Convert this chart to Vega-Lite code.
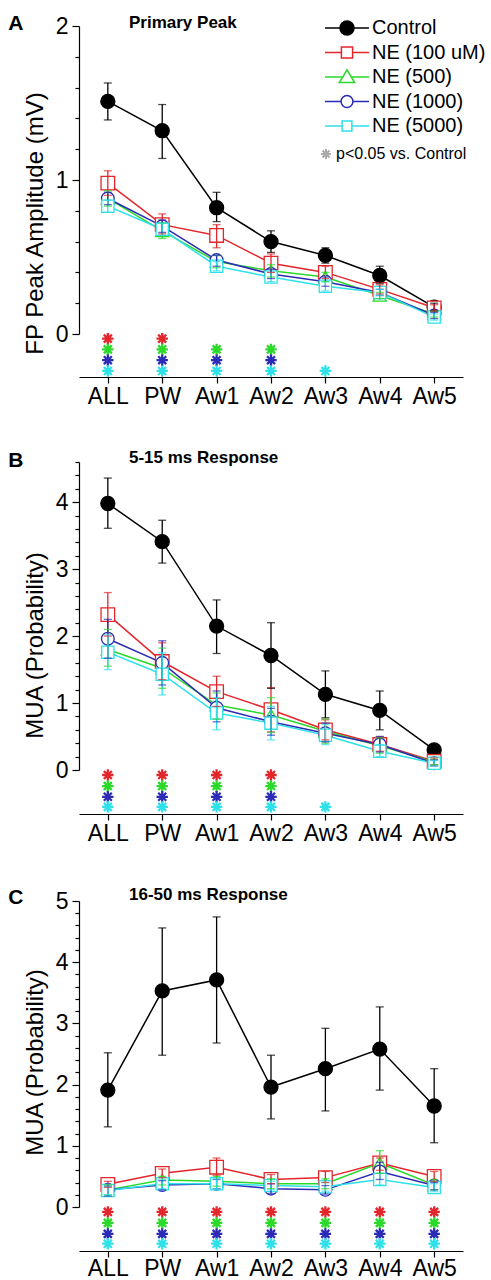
{
  "$schema": "https://vega.github.io/schema/vega-lite/v6.json",
  "padding": {"left": 8, "top": 13, "right": 2, "bottom": 0},
  "background": "white",
  "spacing": 41,
  "config": {
    "view": {"stroke": null},
    "font": "Liberation Sans",
    "axis": {"domainColor": "black", "tickColor": "black", "labelColor": "black", "titleColor": "black", "grid": false, "domainWidth": 1.2, "tickWidth": 1.2, "labelFont": "Liberation Sans", "titleFont": "Liberation Sans", "titleFontWeight": "normal"},
    "title": {"font": "Liberation Sans", "color": "black"},
    "legend": {"labelFont": "Liberation Sans", "labelColor": "black", "padding": 0}
  },
  "datasets": {
    "main": [
      {"panel":"A","region":"ALL","series":"Control","mean":1.51,"lo":1.39,"hi":1.63},
      {"panel":"A","region":"PW","series":"Control","mean":1.32,"lo":1.14,"hi":1.49},
      {"panel":"A","region":"Aw1","series":"Control","mean":0.82,"lo":0.73,"hi":0.92},
      {"panel":"A","region":"Aw2","series":"Control","mean":0.6,"lo":0.53,"hi":0.67},
      {"panel":"A","region":"Aw3","series":"Control","mean":0.51,"lo":0.46,"hi":0.56},
      {"panel":"A","region":"Aw4","series":"Control","mean":0.38,"lo":0.33,"hi":0.44},
      {"panel":"A","region":"Aw5","series":"Control","mean":0.175,"lo":0.15,"hi":0.2},
      {"panel":"A","region":"ALL","series":"NE (100 uM)","mean":0.98,"lo":0.9,"hi":1.06},
      {"panel":"A","region":"PW","series":"NE (100 uM)","mean":0.71,"lo":0.65,"hi":0.78},
      {"panel":"A","region":"Aw1","series":"NE (100 uM)","mean":0.64,"lo":0.56,"hi":0.71},
      {"panel":"A","region":"Aw2","series":"NE (100 uM)","mean":0.46,"lo":0.4,"hi":0.52},
      {"panel":"A","region":"Aw3","series":"NE (100 uM)","mean":0.4,"lo":0.36,"hi":0.44},
      {"panel":"A","region":"Aw4","series":"NE (100 uM)","mean":0.29,"lo":0.26,"hi":0.32},
      {"panel":"A","region":"Aw5","series":"NE (100 uM)","mean":0.17,"lo":0.15,"hi":0.19},
      {"panel":"A","region":"ALL","series":"NE (500)","mean":0.88,"lo":0.83,"hi":0.93},
      {"panel":"A","region":"PW","series":"NE (500)","mean":0.67,"lo":0.62,"hi":0.72},
      {"panel":"A","region":"Aw1","series":"NE (500)","mean":0.47,"lo":0.43,"hi":0.51},
      {"panel":"A","region":"Aw2","series":"NE (500)","mean":0.41,"lo":0.37,"hi":0.45},
      {"panel":"A","region":"Aw3","series":"NE (500)","mean":0.37,"lo":0.34,"hi":0.4},
      {"panel":"A","region":"Aw4","series":"NE (500)","mean":0.25,"lo":0.23,"hi":0.27},
      {"panel":"A","region":"Aw5","series":"NE (500)","mean":0.13,"lo":0.11,"hi":0.15},
      {"panel":"A","region":"ALL","series":"NE (1000)","mean":0.88,"lo":0.84,"hi":0.92},
      {"panel":"A","region":"PW","series":"NE (1000)","mean":0.7,"lo":0.66,"hi":0.74},
      {"panel":"A","region":"Aw1","series":"NE (1000)","mean":0.48,"lo":0.44,"hi":0.51},
      {"panel":"A","region":"Aw2","series":"NE (1000)","mean":0.39,"lo":0.36,"hi":0.42},
      {"panel":"A","region":"Aw3","series":"NE (1000)","mean":0.34,"lo":0.31,"hi":0.37},
      {"panel":"A","region":"Aw4","series":"NE (1000)","mean":0.27,"lo":0.25,"hi":0.29},
      {"panel":"A","region":"Aw5","series":"NE (1000)","mean":0.12,"lo":0.1,"hi":0.14},
      {"panel":"A","region":"ALL","series":"NE (5000)","mean":0.83,"lo":0.79,"hi":0.87},
      {"panel":"A","region":"PW","series":"NE (5000)","mean":0.68,"lo":0.64,"hi":0.72},
      {"panel":"A","region":"Aw1","series":"NE (5000)","mean":0.44,"lo":0.41,"hi":0.47},
      {"panel":"A","region":"Aw2","series":"NE (5000)","mean":0.37,"lo":0.34,"hi":0.4},
      {"panel":"A","region":"Aw3","series":"NE (5000)","mean":0.31,"lo":0.28,"hi":0.34},
      {"panel":"A","region":"Aw4","series":"NE (5000)","mean":0.27,"lo":0.25,"hi":0.29},
      {"panel":"A","region":"Aw5","series":"NE (5000)","mean":0.11,"lo":0.09,"hi":0.13},

      {"panel":"B","region":"ALL","series":"Control","mean":3.98,"lo":3.61,"hi":4.36},
      {"panel":"B","region":"PW","series":"Control","mean":3.41,"lo":3.09,"hi":3.73},
      {"panel":"B","region":"Aw1","series":"Control","mean":2.15,"lo":1.74,"hi":2.54},
      {"panel":"B","region":"Aw2","series":"Control","mean":1.71,"lo":1.22,"hi":2.2},
      {"panel":"B","region":"Aw3","series":"Control","mean":1.13,"lo":0.78,"hi":1.48},
      {"panel":"B","region":"Aw4","series":"Control","mean":0.89,"lo":0.6,"hi":1.18},
      {"panel":"B","region":"Aw5","series":"Control","mean":0.3,"lo":0.25,"hi":0.35},
      {"panel":"B","region":"ALL","series":"NE (100 uM)","mean":2.32,"lo":2.0,"hi":2.65},
      {"panel":"B","region":"PW","series":"NE (100 uM)","mean":1.62,"lo":1.35,"hi":1.9},
      {"panel":"B","region":"Aw1","series":"NE (100 uM)","mean":1.17,"lo":0.95,"hi":1.4},
      {"panel":"B","region":"Aw2","series":"NE (100 uM)","mean":0.9,"lo":0.57,"hi":1.23},
      {"panel":"B","region":"Aw3","series":"NE (100 uM)","mean":0.6,"lo":0.45,"hi":0.75},
      {"panel":"B","region":"Aw4","series":"NE (100 uM)","mean":0.38,"lo":0.28,"hi":0.5},
      {"panel":"B","region":"Aw5","series":"NE (100 uM)","mean":0.13,"lo":0.08,"hi":0.18},
      {"panel":"B","region":"ALL","series":"NE (500)","mean":1.8,"lo":1.55,"hi":2.1},
      {"panel":"B","region":"PW","series":"NE (500)","mean":1.52,"lo":1.22,"hi":1.82},
      {"panel":"B","region":"Aw1","series":"NE (500)","mean":0.97,"lo":0.76,"hi":1.15},
      {"panel":"B","region":"Aw2","series":"NE (500)","mean":0.82,"lo":0.56,"hi":1.08},
      {"panel":"B","region":"Aw3","series":"NE (500)","mean":0.58,"lo":0.4,"hi":0.76},
      {"panel":"B","region":"Aw4","series":"NE (500)","mean":0.36,"lo":0.25,"hi":0.48},
      {"panel":"B","region":"Aw5","series":"NE (500)","mean":0.12,"lo":0.08,"hi":0.16},
      {"panel":"B","region":"ALL","series":"NE (1000)","mean":1.96,"lo":1.67,"hi":2.25},
      {"panel":"B","region":"PW","series":"NE (1000)","mean":1.6,"lo":1.27,"hi":1.93},
      {"panel":"B","region":"Aw1","series":"NE (1000)","mean":0.93,"lo":0.72,"hi":1.18},
      {"panel":"B","region":"Aw2","series":"NE (1000)","mean":0.72,"lo":0.52,"hi":0.92},
      {"panel":"B","region":"Aw3","series":"NE (1000)","mean":0.55,"lo":0.42,"hi":0.7},
      {"panel":"B","region":"Aw4","series":"NE (1000)","mean":0.38,"lo":0.27,"hi":0.5},
      {"panel":"B","region":"Aw5","series":"NE (1000)","mean":0.1,"lo":0.06,"hi":0.15},
      {"panel":"B","region":"ALL","series":"NE (5000)","mean":1.76,"lo":1.5,"hi":2.02},
      {"panel":"B","region":"PW","series":"NE (5000)","mean":1.43,"lo":1.12,"hi":1.75},
      {"panel":"B","region":"Aw1","series":"NE (5000)","mean":0.85,"lo":0.6,"hi":1.08},
      {"panel":"B","region":"Aw2","series":"NE (5000)","mean":0.7,"lo":0.45,"hi":0.95},
      {"panel":"B","region":"Aw3","series":"NE (5000)","mean":0.52,"lo":0.38,"hi":0.68},
      {"panel":"B","region":"Aw4","series":"NE (5000)","mean":0.28,"lo":0.2,"hi":0.38},
      {"panel":"B","region":"Aw5","series":"NE (5000)","mean":0.1,"lo":0.06,"hi":0.14},

      {"panel":"C","region":"ALL","series":"Control","mean":1.91,"lo":1.31,"hi":2.52},
      {"panel":"C","region":"PW","series":"Control","mean":3.53,"lo":2.48,"hi":4.56},
      {"panel":"C","region":"Aw1","series":"Control","mean":3.71,"lo":2.68,"hi":4.74},
      {"panel":"C","region":"Aw2","series":"Control","mean":1.96,"lo":1.44,"hi":2.48},
      {"panel":"C","region":"Aw3","series":"Control","mean":2.26,"lo":1.57,"hi":2.92},
      {"panel":"C","region":"Aw4","series":"Control","mean":2.58,"lo":1.91,"hi":3.27},
      {"panel":"C","region":"Aw5","series":"Control","mean":1.65,"lo":1.05,"hi":2.26},
      {"panel":"C","region":"ALL","series":"NE (100 uM)","mean":0.37,"lo":0.32,"hi":0.42},
      {"panel":"C","region":"PW","series":"NE (100 uM)","mean":0.55,"lo":0.48,"hi":0.62},
      {"panel":"C","region":"Aw1","series":"NE (100 uM)","mean":0.65,"lo":0.52,"hi":0.8},
      {"panel":"C","region":"Aw2","series":"NE (100 uM)","mean":0.45,"lo":0.38,"hi":0.53},
      {"panel":"C","region":"Aw3","series":"NE (100 uM)","mean":0.48,"lo":0.4,"hi":0.58},
      {"panel":"C","region":"Aw4","series":"NE (100 uM)","mean":0.72,"lo":0.6,"hi":0.8},
      {"panel":"C","region":"Aw5","series":"NE (100 uM)","mean":0.5,"lo":0.42,"hi":0.58},
      {"panel":"C","region":"ALL","series":"NE (500)","mean":0.28,"lo":0.2,"hi":0.36},
      {"panel":"C","region":"PW","series":"NE (500)","mean":0.44,"lo":0.36,"hi":0.5},
      {"panel":"C","region":"Aw1","series":"NE (500)","mean":0.42,"lo":0.34,"hi":0.5},
      {"panel":"C","region":"Aw2","series":"NE (500)","mean":0.38,"lo":0.3,"hi":0.46},
      {"panel":"C","region":"Aw3","series":"NE (500)","mean":0.38,"lo":0.3,"hi":0.46},
      {"panel":"C","region":"Aw4","series":"NE (500)","mean":0.72,"lo":0.55,"hi":0.92},
      {"panel":"C","region":"Aw5","series":"NE (500)","mean":0.36,"lo":0.28,"hi":0.45},
      {"panel":"C","region":"ALL","series":"NE (1000)","mean":0.28,"lo":0.18,"hi":0.34},
      {"panel":"C","region":"PW","series":"NE (1000)","mean":0.36,"lo":0.28,"hi":0.43},
      {"panel":"C","region":"Aw1","series":"NE (1000)","mean":0.38,"lo":0.3,"hi":0.45},
      {"panel":"C","region":"Aw2","series":"NE (1000)","mean":0.3,"lo":0.22,"hi":0.38},
      {"panel":"C","region":"Aw3","series":"NE (1000)","mean":0.28,"lo":0.21,"hi":0.35},
      {"panel":"C","region":"Aw4","series":"NE (1000)","mean":0.58,"lo":0.45,"hi":0.73},
      {"panel":"C","region":"Aw5","series":"NE (1000)","mean":0.35,"lo":0.28,"hi":0.4},
      {"panel":"C","region":"ALL","series":"NE (5000)","mean":0.27,"lo":0.2,"hi":0.33},
      {"panel":"C","region":"PW","series":"NE (5000)","mean":0.38,"lo":0.3,"hi":0.45},
      {"panel":"C","region":"Aw1","series":"NE (5000)","mean":0.38,"lo":0.3,"hi":0.46},
      {"panel":"C","region":"Aw2","series":"NE (5000)","mean":0.35,"lo":0.28,"hi":0.42},
      {"panel":"C","region":"Aw3","series":"NE (5000)","mean":0.33,"lo":0.26,"hi":0.4},
      {"panel":"C","region":"Aw4","series":"NE (5000)","mean":0.45,"lo":0.36,"hi":0.55},
      {"panel":"C","region":"Aw5","series":"NE (5000)","mean":0.32,"lo":0.25,"hi":0.38}
    ],
    "sig": [
      {"panel":"A","region":"ALL","series":"NE (100 uM)","y":-0.03},
      {"panel":"A","region":"ALL","series":"NE (500)","y":-0.1},
      {"panel":"A","region":"ALL","series":"NE (1000)","y":-0.17},
      {"panel":"A","region":"ALL","series":"NE (5000)","y":-0.24},
      {"panel":"A","region":"PW","series":"NE (100 uM)","y":-0.03},
      {"panel":"A","region":"PW","series":"NE (500)","y":-0.1},
      {"panel":"A","region":"PW","series":"NE (1000)","y":-0.17},
      {"panel":"A","region":"PW","series":"NE (5000)","y":-0.24},
      {"panel":"A","region":"Aw1","series":"NE (500)","y":-0.1},
      {"panel":"A","region":"Aw1","series":"NE (1000)","y":-0.17},
      {"panel":"A","region":"Aw1","series":"NE (5000)","y":-0.24},
      {"panel":"A","region":"Aw2","series":"NE (500)","y":-0.1},
      {"panel":"A","region":"Aw2","series":"NE (1000)","y":-0.17},
      {"panel":"A","region":"Aw2","series":"NE (5000)","y":-0.24},
      {"panel":"A","region":"Aw3","series":"NE (5000)","y":-0.24},

      {"panel":"B","region":"ALL","series":"NE (100 uM)","y":-0.075},
      {"panel":"B","region":"ALL","series":"NE (500)","y":-0.24},
      {"panel":"B","region":"ALL","series":"NE (1000)","y":-0.4},
      {"panel":"B","region":"ALL","series":"NE (5000)","y":-0.55},
      {"panel":"B","region":"PW","series":"NE (100 uM)","y":-0.075},
      {"panel":"B","region":"PW","series":"NE (500)","y":-0.24},
      {"panel":"B","region":"PW","series":"NE (1000)","y":-0.4},
      {"panel":"B","region":"PW","series":"NE (5000)","y":-0.55},
      {"panel":"B","region":"Aw1","series":"NE (100 uM)","y":-0.075},
      {"panel":"B","region":"Aw1","series":"NE (500)","y":-0.24},
      {"panel":"B","region":"Aw1","series":"NE (1000)","y":-0.4},
      {"panel":"B","region":"Aw1","series":"NE (5000)","y":-0.55},
      {"panel":"B","region":"Aw2","series":"NE (100 uM)","y":-0.075},
      {"panel":"B","region":"Aw2","series":"NE (500)","y":-0.24},
      {"panel":"B","region":"Aw2","series":"NE (1000)","y":-0.4},
      {"panel":"B","region":"Aw2","series":"NE (5000)","y":-0.55},
      {"panel":"B","region":"Aw3","series":"NE (5000)","y":-0.55},

      {"panel":"C","region":"ALL","series":"NE (100 uM)","y":-0.08},
      {"panel":"C","region":"ALL","series":"NE (500)","y":-0.26},
      {"panel":"C","region":"ALL","series":"NE (1000)","y":-0.44},
      {"panel":"C","region":"ALL","series":"NE (5000)","y":-0.6},
      {"panel":"C","region":"PW","series":"NE (100 uM)","y":-0.08},
      {"panel":"C","region":"PW","series":"NE (500)","y":-0.26},
      {"panel":"C","region":"PW","series":"NE (1000)","y":-0.44},
      {"panel":"C","region":"PW","series":"NE (5000)","y":-0.6},
      {"panel":"C","region":"Aw1","series":"NE (100 uM)","y":-0.08},
      {"panel":"C","region":"Aw1","series":"NE (500)","y":-0.26},
      {"panel":"C","region":"Aw1","series":"NE (1000)","y":-0.44},
      {"panel":"C","region":"Aw1","series":"NE (5000)","y":-0.6},
      {"panel":"C","region":"Aw2","series":"NE (100 uM)","y":-0.08},
      {"panel":"C","region":"Aw2","series":"NE (500)","y":-0.26},
      {"panel":"C","region":"Aw2","series":"NE (1000)","y":-0.44},
      {"panel":"C","region":"Aw2","series":"NE (5000)","y":-0.6},
      {"panel":"C","region":"Aw3","series":"NE (100 uM)","y":-0.08},
      {"panel":"C","region":"Aw3","series":"NE (500)","y":-0.26},
      {"panel":"C","region":"Aw3","series":"NE (1000)","y":-0.44},
      {"panel":"C","region":"Aw3","series":"NE (5000)","y":-0.6},
      {"panel":"C","region":"Aw4","series":"NE (100 uM)","y":-0.08},
      {"panel":"C","region":"Aw4","series":"NE (500)","y":-0.26},
      {"panel":"C","region":"Aw4","series":"NE (1000)","y":-0.44},
      {"panel":"C","region":"Aw4","series":"NE (5000)","y":-0.6},
      {"panel":"C","region":"Aw5","series":"NE (100 uM)","y":-0.08},
      {"panel":"C","region":"Aw5","series":"NE (500)","y":-0.26},
      {"panel":"C","region":"Aw5","series":"NE (1000)","y":-0.44},
      {"panel":"C","region":"Aw5","series":"NE (5000)","y":-0.6}
    ]
  },
  "vconcat": [
    {
      "title": {"text": "A", "anchor": "start", "frame": "bounds", "fontSize": 21, "fontWeight": "bold", "offset": -20, "dx": -15},
      "vconcat": [
        {
          "title": {"text": "Primary Peak", "anchor": "start", "frame": "group", "dx": 50, "fontSize": 17, "fontWeight": "bold", "offset": -17},
          "width": 384,
          "height": 351,
          "encoding": {
            "x": {"field": "region", "type": "ordinal", "sort": null, "scale": {"type": "point", "padding": 0.53, "domain": ["ALL","PW","Aw1","Aw2","Aw3","Aw4","Aw5"]}, "axis": {"title": null, "labelAngle": 0, "labelFontSize": 23, "tickSize": 6, "labelPadding": 2}}
          },
          "resolve": {"scale": {"color": "independent", "fill": "independent", "shape": "independent", "size": "independent", "strokeWidth": "independent", "opacity": "independent"}, "axis": {"y": "independent"}},
          "layer": [
            {
              "data": {"name": "main"},
              "transform": [{"filter": "datum.panel === 'A'"}],
              "mark": {"type": "line", "strokeWidth": 1.5},
              "encoding": {
                "y": {"field": "mean", "type": "quantitative", "scale": {"domain": [0, 2], "range": [308, 0], "nice": false, "zero": false}, "axis": {"orient": "left", "title": "FP Peak Amplitude (mV)", "titleFontSize": 24, "titleY": 197, "titlePadding": 8, "values": [0, 2], "format": "d", "tickSize": 7, "labelFontSize": 23, "labelPadding": 4, "labelOverlap": false, "labelBound": false, "labelFlush": false, "zindex": 2}},
                "color": {"field": "series", "type": "nominal", "scale": {"domain": ["Control","NE (100 uM)","NE (500)","NE (1000)","NE (5000)"], "range": ["#000000","#e3262b","#2ad92a","#2b2bb5","#2ee0e8"]}, "legend": null}
              }
            },
            {
              "data": {"name": "main"},
              "transform": [{"filter": "datum.panel === 'A'"}],
              "mark": {"type": "point", "filled": false, "opacity": 1},
              "encoding": {
                "y": {"field": "mean", "type": "quantitative", "axis": null},
                "color": {"field": "series", "type": "nominal", "scale": {"domain": ["Control","NE (100 uM)","NE (500)","NE (1000)","NE (5000)"], "range": ["#000000","#e3262b","#2ad92a","#2b2bb5","#2ee0e8"]}, "legend": null},
                "fill": {"field": "series", "type": "nominal", "scale": {"domain": ["Control","NE (100 uM)","NE (500)","NE (1000)","NE (5000)"], "range": ["#000000","#ffffff","#ffffff","#ffffff","#ffffff"]}, "legend": null},
                "shape": {"field": "series", "type": "nominal", "scale": {"domain": ["Control","NE (100 uM)","NE (500)","NE (1000)","NE (5000)"], "range": ["circle","square","triangle-up","circle","square"]}, "legend": null},
                "size": {"field": "series", "type": "nominal", "scale": {"domain": ["Control","NE (100 uM)","NE (500)","NE (1000)","NE (5000)"], "range": [196,150,170,150,100]}, "legend": null},
                "strokeWidth": {"field": "series", "type": "nominal", "scale": {"domain": ["Control","NE (100 uM)","NE (500)","NE (1000)","NE (5000)"], "range": [1.3,1.3,1.3,1.3,3]}, "legend": null}
              }
            },
            {
              "data": {"name": "main"},
              "transform": [{"filter": "datum.panel === 'A'"}],
              "mark": {"type": "rule", "strokeWidth": 1.3},
              "encoding": {
                "y": {"field": "lo", "type": "quantitative", "axis": {"orient": "left", "title": null, "values": [0.2,0.4,0.6,0.8,1.2,1.4,1.6,1.8], "labels": false, "domain": false, "tickSize": 4}},
                "y2": {"field": "hi"},
                "color": {"field": "series", "type": "nominal", "scale": {"domain": ["Control","NE (100 uM)","NE (500)","NE (1000)","NE (5000)"], "range": ["#000000","#e3262b","#2ad92a","#2b2bb5","#2ee0e8"]}, "legend": null}
              }
            },
            {
              "data": {"name": "main"},
              "transform": [{"filter": "datum.panel === 'A'"}],
              "mark": {"type": "tick", "size": 8, "thickness": 1.3},
              "encoding": {
                "y": {"field": "hi", "type": "quantitative", "axis": null},
                "color": {"field": "series", "type": "nominal", "scale": {"domain": ["Control","NE (100 uM)","NE (500)","NE (1000)","NE (5000)"], "range": ["#000000","#e3262b","#2ad92a","#2b2bb5","#2ee0e8"]}, "legend": null}
              }
            },
            {
              "data": {"name": "main"},
              "transform": [{"filter": "datum.panel === 'A'"}],
              "mark": {"type": "tick", "size": 8, "thickness": 1.3},
              "encoding": {
                "y": {"field": "lo", "type": "quantitative", "axis": {"orient": "left", "title": null, "values": [1], "format": "d", "domain": false, "tickSize": 7, "labelFontSize": 23, "labelPadding": 4, "labelOverlap": false, "labelBound": false, "labelFlush": false}},
                "color": {"field": "series", "type": "nominal", "scale": {"domain": ["Control","NE (100 uM)","NE (500)","NE (1000)","NE (5000)"], "range": ["#000000","#e3262b","#2ad92a","#2b2bb5","#2ee0e8"]}, "legend": null}
              }
            },
            {
              "data": {"name": "sig"},
              "transform": [{"filter": "datum.panel === 'A'"}],
              "mark": {"type": "point", "filled": false, "shape": "M-1,0H1M0,-1V1M-0.7,-0.7L0.7,0.7M-0.7,0.7L0.7,-0.7", "size": 130, "strokeWidth": 2.3, "opacity": 1},
              "encoding": {
                "y": {"field": "y", "type": "quantitative", "axis": null},
                "color": {"field": "series", "type": "nominal", "scale": {"domain": ["Control","NE (100 uM)","NE (500)","NE (1000)","NE (5000)"], "range": ["#000000","#e3262b","#2ad92a","#2b2bb5","#2ee0e8"]}, "legend": null}
              }
            },
            {
              "data": {"name": "main"},
              "transform": [{"filter": "false"}],
              "mark": {"type": "point", "filled": false, "size": 196, "strokeWidth": 1.5, "opacity": 1},
              "encoding": {
                "color": {"field": "series", "type": "nominal", "scale": {"domain": ["Control","NE (100 uM)","NE (500)","NE (1000)","NE (5000)"], "range": ["#000000","#e3262b","#2ad92a","#2b2bb5","#2ee0e8"]}, "legend": {"orient": "none", "legendX": 258, "legendY": -8, "title": null, "labelFontSize": 20, "labelOffset": 15, "rowPadding": 4.5, "symbolStrokeWidth": 1.5, "symbolSize": 196}},
                "fill": {"field": "series", "type": "nominal", "scale": {"domain": ["Control","NE (100 uM)","NE (500)","NE (1000)","NE (5000)"], "range": ["#000000","#ffffff","#ffffff","#ffffff","#ffffff"]}, "legend": {"orient": "none", "legendX": 258, "legendY": -8, "title": null, "labelFontSize": 20, "labelOffset": 15, "rowPadding": 4.5, "symbolStrokeWidth": 1.5, "symbolSize": 196}},
                "shape": {"field": "series", "type": "nominal", "scale": {"domain": ["Control","NE (100 uM)","NE (500)","NE (1000)","NE (5000)"], "range": ["M-3.14,0H-1M1,0H3.14M1,0A1 1 0 1 1 -1,0A1 1 0 1 1 1,0Z", "M-3.14,0H-0.8M0.8,0H3.14M-0.8,-0.8H0.8V0.8H-0.8Z", "M-3.14,0H-0.6M0.6,0H3.14M0,-1L1.1,0.8H-1.1Z", "M-3.14,0H-0.85M0.85,0H3.14M0.85,0A0.85 0.85 0 1 1 -0.85,0A0.85 0.85 0 1 1 0.85,0Z", "M-3.14,0H-0.7M0.7,0H3.14M-0.7,-0.7H0.7V0.7H-0.7Z"]}, "legend": {"orient": "none", "legendX": 258, "legendY": -8, "title": null, "labelFontSize": 20, "labelOffset": 15, "rowPadding": 4.5, "symbolStrokeWidth": 1.5, "symbolSize": 196}}
              }
            },
            {
              "data": {"name": "main"},
              "transform": [{"filter": "false"}],
              "mark": {"type": "point", "filled": false, "shape": "M-1,0H1M0,-1V1M-0.7,-0.7L0.7,0.7M-0.7,0.7L0.7,-0.7", "size": 100, "stroke": "#aaaaaa", "strokeWidth": 2},
              "encoding": {
                "opacity": {"field": "panel", "type": "ordinal", "scale": {"domain": ["p<0.05 vs. Control"], "range": [1]}, "legend": {"orient": "none", "legendX": 239, "legendY": 120, "title": null, "labelFontSize": 16, "labelOffset": 2, "symbolType": "M-1,0H1M0,-1V1M-0.7,-0.7L0.7,0.7M-0.7,0.7L0.7,-0.7", "symbolStrokeColor": "#aaaaaa", "symbolStrokeWidth": 2, "symbolSize": 100}}
              }
            }
          ]
        }
      ]
    },
    {
      "title": {"text": "B", "anchor": "start", "frame": "bounds", "fontSize": 21, "fontWeight": "bold", "offset": -22, "dx": -15},
      "vconcat": [
        {
          "title": {"text": "5-15 ms Response", "anchor": "start", "frame": "group", "dx": 50, "fontSize": 17, "fontWeight": "bold", "offset": -6},
          "width": 384,
          "height": 352,
          "encoding": {
            "x": {"field": "region", "type": "ordinal", "sort": null, "scale": {"type": "point", "padding": 0.53, "domain": ["ALL","PW","Aw1","Aw2","Aw3","Aw4","Aw5"]}, "axis": {"title": null, "labelAngle": 0, "labelFontSize": 23, "tickSize": 6, "labelPadding": 2}}
          },
          "resolve": {"scale": {"color": "independent", "fill": "independent", "shape": "independent", "size": "independent", "strokeWidth": "independent"}, "axis": {"y": "independent"}},
          "layer": [
            {
              "data": {"name": "main"},
              "transform": [{"filter": "datum.panel === 'B'"}],
              "mark": {"type": "line", "strokeWidth": 1.5},
              "encoding": {
                "y": {"field": "mean", "type": "quantitative", "scale": {"domain": [0, 4.6], "range": [308, 0], "nice": false, "zero": false}, "axis": {"orient": "left", "title": "MUA (Probability)", "titleFontSize": 24, "titleY": 183, "titlePadding": 8, "values": [0, 1, 2, 3, 4], "format": "d", "tickSize": 7, "labelFontSize": 23, "labelPadding": 4, "labelOverlap": false, "labelBound": false, "labelFlush": false, "zindex": 2}},
                "color": {"field": "series", "type": "nominal", "scale": {"domain": ["Control","NE (100 uM)","NE (500)","NE (1000)","NE (5000)"], "range": ["#000000","#e3262b","#2ad92a","#2b2bb5","#2ee0e8"]}, "legend": null}
              }
            },
            {
              "data": {"name": "main"},
              "transform": [{"filter": "datum.panel === 'B'"}],
              "mark": {"type": "point", "filled": false, "opacity": 1},
              "encoding": {
                "y": {"field": "mean", "type": "quantitative", "axis": null},
                "color": {"field": "series", "type": "nominal", "scale": {"domain": ["Control","NE (100 uM)","NE (500)","NE (1000)","NE (5000)"], "range": ["#000000","#e3262b","#2ad92a","#2b2bb5","#2ee0e8"]}, "legend": null},
                "fill": {"field": "series", "type": "nominal", "scale": {"domain": ["Control","NE (100 uM)","NE (500)","NE (1000)","NE (5000)"], "range": ["#000000","#ffffff","#ffffff","#ffffff","#ffffff"]}, "legend": null},
                "shape": {"field": "series", "type": "nominal", "scale": {"domain": ["Control","NE (100 uM)","NE (500)","NE (1000)","NE (5000)"], "range": ["circle","square","triangle-up","circle","square"]}, "legend": null},
                "size": {"field": "series", "type": "nominal", "scale": {"domain": ["Control","NE (100 uM)","NE (500)","NE (1000)","NE (5000)"], "range": [196,150,170,150,100]}, "legend": null},
                "strokeWidth": {"field": "series", "type": "nominal", "scale": {"domain": ["Control","NE (100 uM)","NE (500)","NE (1000)","NE (5000)"], "range": [1.3,1.3,1.3,1.3,3]}, "legend": null}
              }
            },
            {
              "data": {"name": "main"},
              "transform": [{"filter": "datum.panel === 'B'"}],
              "mark": {"type": "rule", "strokeWidth": 1.3},
              "encoding": {
                "y": {"field": "lo", "type": "quantitative", "axis": {"orient": "left", "title": null, "values": [0.2,0.4,0.6,0.8,1.2,1.4,1.6,1.8,2.2,2.4,2.6,2.8,3.2,3.4,3.6,3.8,4.2,4.4,4.6], "labels": false, "domain": false, "tickSize": 4}},
                "y2": {"field": "hi"},
                "color": {"field": "series", "type": "nominal", "scale": {"domain": ["Control","NE (100 uM)","NE (500)","NE (1000)","NE (5000)"], "range": ["#000000","#e3262b","#2ad92a","#2b2bb5","#2ee0e8"]}, "legend": null}
              }
            },
            {
              "data": {"name": "main"},
              "transform": [{"filter": "datum.panel === 'B'"}],
              "mark": {"type": "tick", "size": 8, "thickness": 1.3},
              "encoding": {
                "y": {"field": "hi", "type": "quantitative", "axis": null},
                "color": {"field": "series", "type": "nominal", "scale": {"domain": ["Control","NE (100 uM)","NE (500)","NE (1000)","NE (5000)"], "range": ["#000000","#e3262b","#2ad92a","#2b2bb5","#2ee0e8"]}, "legend": null}
              }
            },
            {
              "data": {"name": "main"},
              "transform": [{"filter": "datum.panel === 'B'"}],
              "mark": {"type": "tick", "size": 8, "thickness": 1.3},
              "encoding": {
                "y": {"field": "lo", "type": "quantitative", "axis": null},
                "color": {"field": "series", "type": "nominal", "scale": {"domain": ["Control","NE (100 uM)","NE (500)","NE (1000)","NE (5000)"], "range": ["#000000","#e3262b","#2ad92a","#2b2bb5","#2ee0e8"]}, "legend": null}
              }
            },
            {
              "data": {"name": "sig"},
              "transform": [{"filter": "datum.panel === 'B'"}],
              "mark": {"type": "point", "filled": false, "shape": "M-1,0H1M0,-1V1M-0.7,-0.7L0.7,0.7M-0.7,0.7L0.7,-0.7", "size": 130, "strokeWidth": 2.3, "opacity": 1},
              "encoding": {
                "y": {"field": "y", "type": "quantitative", "axis": null},
                "color": {"field": "series", "type": "nominal", "scale": {"domain": ["Control","NE (100 uM)","NE (500)","NE (1000)","NE (5000)"], "range": ["#000000","#e3262b","#2ad92a","#2b2bb5","#2ee0e8"]}, "legend": null}
              }
            }
          ]
        }
      ]
    },
    {
      "title": {"text": "C", "anchor": "start", "frame": "bounds", "fontSize": 21, "fontWeight": "bold", "offset": -22, "dx": -15},
      "vconcat": [
        {
          "title": {"text": "16-50 ms Response", "anchor": "start", "frame": "group", "dx": 50, "fontSize": 17, "fontWeight": "bold", "offset": -14},
          "width": 384,
          "height": 350,
          "encoding": {
            "x": {"field": "region", "type": "ordinal", "sort": null, "scale": {"type": "point", "padding": 0.53, "domain": ["ALL","PW","Aw1","Aw2","Aw3","Aw4","Aw5"]}, "axis": {"title": null, "labelAngle": 0, "labelFontSize": 23, "tickSize": 6, "labelPadding": 0}}
          },
          "resolve": {"scale": {"color": "independent", "fill": "independent", "shape": "independent", "size": "independent", "strokeWidth": "independent"}, "axis": {"y": "independent"}},
          "layer": [
            {
              "data": {"name": "main"},
              "transform": [{"filter": "datum.panel === 'C'"}],
              "mark": {"type": "line", "strokeWidth": 1.5},
              "encoding": {
                "y": {"field": "mean", "type": "quantitative", "scale": {"domain": [0, 5], "range": [306, 0], "nice": false, "zero": false}, "axis": {"orient": "left", "title": "MUA (Probability)", "titleFontSize": 24, "titleY": 161, "titlePadding": 8, "values": [0, 1, 2, 3, 4, 5], "format": "d", "tickSize": 7, "labelFontSize": 23, "labelPadding": 4, "labelOverlap": false, "labelBound": false, "labelFlush": false, "zindex": 2}},
                "color": {"field": "series", "type": "nominal", "scale": {"domain": ["Control","NE (100 uM)","NE (500)","NE (1000)","NE (5000)"], "range": ["#000000","#e3262b","#2ad92a","#2b2bb5","#2ee0e8"]}, "legend": null}
              }
            },
            {
              "data": {"name": "main"},
              "transform": [{"filter": "datum.panel === 'C'"}],
              "mark": {"type": "point", "filled": false, "opacity": 1},
              "encoding": {
                "y": {"field": "mean", "type": "quantitative", "axis": null},
                "color": {"field": "series", "type": "nominal", "scale": {"domain": ["Control","NE (100 uM)","NE (500)","NE (1000)","NE (5000)"], "range": ["#000000","#e3262b","#2ad92a","#2b2bb5","#2ee0e8"]}, "legend": null},
                "fill": {"field": "series", "type": "nominal", "scale": {"domain": ["Control","NE (100 uM)","NE (500)","NE (1000)","NE (5000)"], "range": ["#000000","#ffffff","#ffffff","#ffffff","#ffffff"]}, "legend": null},
                "shape": {"field": "series", "type": "nominal", "scale": {"domain": ["Control","NE (100 uM)","NE (500)","NE (1000)","NE (5000)"], "range": ["circle","square","triangle-up","circle","square"]}, "legend": null},
                "size": {"field": "series", "type": "nominal", "scale": {"domain": ["Control","NE (100 uM)","NE (500)","NE (1000)","NE (5000)"], "range": [196,150,170,150,100]}, "legend": null},
                "strokeWidth": {"field": "series", "type": "nominal", "scale": {"domain": ["Control","NE (100 uM)","NE (500)","NE (1000)","NE (5000)"], "range": [1.3,1.3,1.3,1.3,3]}, "legend": null}
              }
            },
            {
              "data": {"name": "main"},
              "transform": [{"filter": "datum.panel === 'C'"}],
              "mark": {"type": "rule", "strokeWidth": 1.3},
              "encoding": {
                "y": {"field": "lo", "type": "quantitative", "axis": {"orient": "left", "title": null, "values": [0.2,0.4,0.6,0.8,1.2,1.4,1.6,1.8,2.2,2.4,2.6,2.8,3.2,3.4,3.6,3.8,4.2,4.4,4.6,4.8], "labels": false, "domain": false, "tickSize": 4}},
                "y2": {"field": "hi"},
                "color": {"field": "series", "type": "nominal", "scale": {"domain": ["Control","NE (100 uM)","NE (500)","NE (1000)","NE (5000)"], "range": ["#000000","#e3262b","#2ad92a","#2b2bb5","#2ee0e8"]}, "legend": null}
              }
            },
            {
              "data": {"name": "main"},
              "transform": [{"filter": "datum.panel === 'C'"}],
              "mark": {"type": "tick", "size": 8, "thickness": 1.3},
              "encoding": {
                "y": {"field": "hi", "type": "quantitative", "axis": null},
                "color": {"field": "series", "type": "nominal", "scale": {"domain": ["Control","NE (100 uM)","NE (500)","NE (1000)","NE (5000)"], "range": ["#000000","#e3262b","#2ad92a","#2b2bb5","#2ee0e8"]}, "legend": null}
              }
            },
            {
              "data": {"name": "main"},
              "transform": [{"filter": "datum.panel === 'C'"}],
              "mark": {"type": "tick", "size": 8, "thickness": 1.3},
              "encoding": {
                "y": {"field": "lo", "type": "quantitative", "axis": null},
                "color": {"field": "series", "type": "nominal", "scale": {"domain": ["Control","NE (100 uM)","NE (500)","NE (1000)","NE (5000)"], "range": ["#000000","#e3262b","#2ad92a","#2b2bb5","#2ee0e8"]}, "legend": null}
              }
            },
            {
              "data": {"name": "sig"},
              "transform": [{"filter": "datum.panel === 'C'"}],
              "mark": {"type": "point", "filled": false, "shape": "M-1,0H1M0,-1V1M-0.7,-0.7L0.7,0.7M-0.7,0.7L0.7,-0.7", "size": 130, "strokeWidth": 2.3, "opacity": 1},
              "encoding": {
                "y": {"field": "y", "type": "quantitative", "axis": null},
                "color": {"field": "series", "type": "nominal", "scale": {"domain": ["Control","NE (100 uM)","NE (500)","NE (1000)","NE (5000)"], "range": ["#000000","#e3262b","#2ad92a","#2b2bb5","#2ee0e8"]}, "legend": null}
              }
            }
          ]
        }
      ]
    }
  ]
}
